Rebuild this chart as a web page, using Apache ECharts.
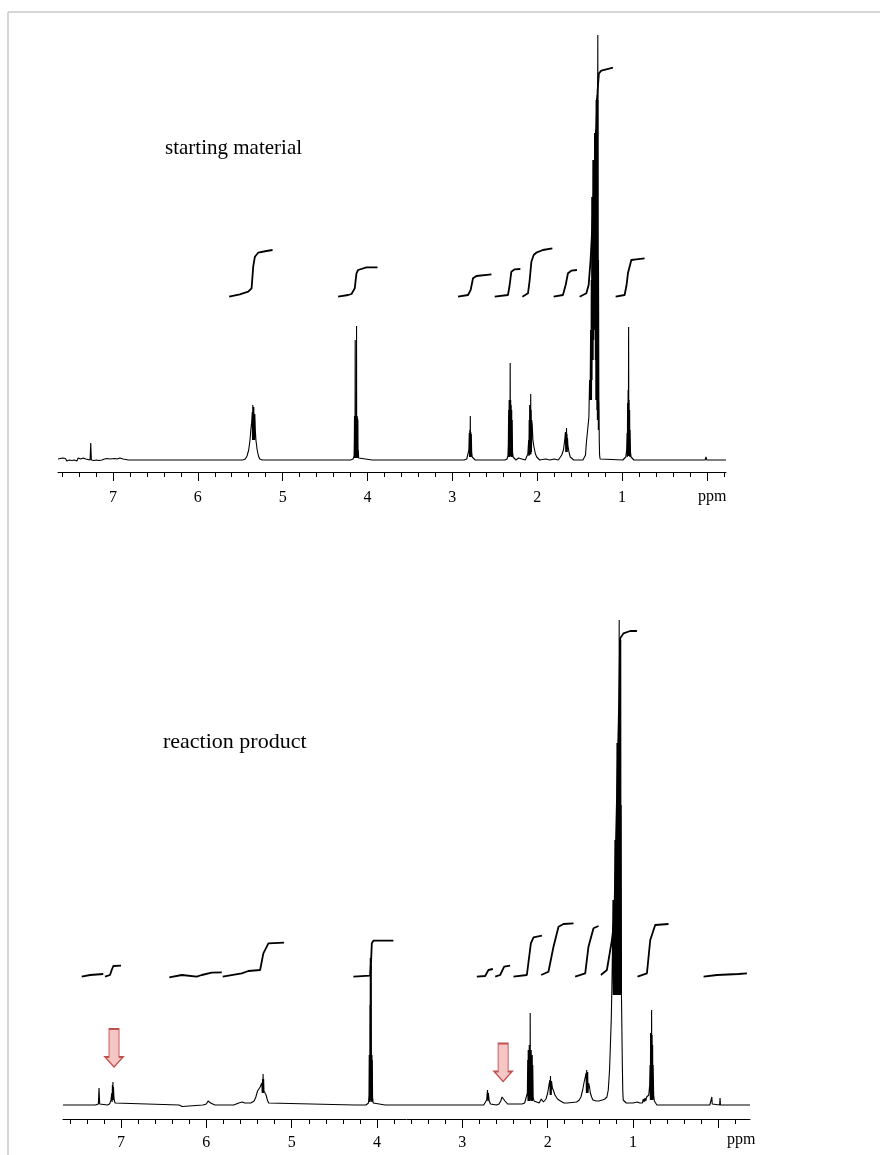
<!DOCTYPE html>
<html><head><meta charset="utf-8">
<script src="https://cdn.jsdelivr.net/npm/echarts@6/dist/echarts.min.js"></script>
<style>html,body{margin:0;padding:0;background:#fff}#c{width:880px;height:1155px}</style>
</head><body><div id="c"></div>
<script>
// ---------------- data (ppm, intensity) ----------------
const majorTicks = [0, 1, 2, 3, 4, 5, 6, 7];
const minorTicks = [7.6, 7.4, 7.2, 6.8, 6.6, 6.4, 6.2, 5.8, 5.6, 5.4, 5.2, 4.8, 4.6, 4.4, 4.2,
  3.8, 3.6, 3.4, 3.2, 2.8, 2.6, 2.4, 2.2, 1.8, 1.6, 1.4, 1.2, 0.8, 0.6, 0.4, 0.2, -0.2];
const axisUnit = 'ppm';
const topTitle = 'starting material';
const bottomTitle = 'reaction product';

const topSpectrum = [
  [7.648,1],[7.635,-1],[7.62,1.5],[7.605,-0.5],[7.59,2],[7.575,0],[7.56,1.5],[7.545,-1],[7.53,1],[7.515,0],[7.50,2],[7.485,-0.5],[7.47,1.5],[7.455,0],[7.44,1],[7.425,-1],[7.41,2],[7.395,0],[7.38,1],[7.365,-0.5],[7.35,2],[7.335,0],[7.32,1],[7.30,0],[7.27,0],[7.262,17],[7.255,0],[7.24,1],[7.225,-0.5],[7.21,1.5],[7.195,0],[7.18,2],[7.165,-0.5],[7.15,1],[7.13,0],[7.10,1],[7.085,-0.5],[7.07,1.5],[7.05,0],[7.03,1],[7.01,0],[6.98,1.5],[6.965,-0.5],[6.95,1],[6.93,0],[6.92,2],[6.90,0],[6.88,1],[6.86,0],[6.82,0],
  [6.0,0],[5.99,2],[5.98,0],
  [5.47,0],[5.44,1],[5.42,4],[5.40,10],[5.385,20],[5.375,30],[5.365,38],[5.358,48],[5.355,20],[5.352,55],[5.349,20],[5.346,42],[5.343,20],[5.340,53],[5.337,20],[5.334,40],[5.331,20],[5.328,46],[5.322,30],[5.315,20],[5.30,10],[5.285,4],[5.27,1],[5.24,0],[5.165,0],[5.16,2],[5.155,0],
  [4.20,0],[4.17,1],[4.158,4],[4.155,20],[4.153,44],[4.151,2],[4.149,44],[4.147,4],[4.145,120],[4.143,2],[4.141,44],[4.139,3],[4.137,44],[4.135,2],[4.133,44],[4.131,3],[4.129,134],[4.127,2],[4.125,44],[4.123,3],[4.121,44],[4.119,2],[4.117,42],[4.115,3],[4.113,40],[4.111,2],[4.108,10],[4.104,2],[4.09,0],[3.945,0],[3.94,2],[3.935,0],
  [2.86,0],[2.83,1],[2.815,3],[2.805,10],[2.80,27],[2.797,3],[2.794,30],[2.791,3],[2.788,44],[2.785,3],[2.782,28],[2.779,3],[2.776,26],[2.772,8],[2.765,3],[2.75,1],[2.73,0],
  [2.38,0],[2.355,1],[2.345,4],[2.34,15],[2.336,50],[2.333,3],[2.330,60],[2.327,3],[2.324,60],[2.321,4],[2.318,97],[2.315,4],[2.312,60],[2.309,3],[2.306,55],[2.303,3],[2.300,50],[2.297,3],[2.294,40],[2.29,8],[2.283,3],[2.27,1],[2.25,0],[2.22,2],[2.20,0],[2.18,1],
  [2.14,0],[2.12,2],[2.11,6],[2.10,20],[2.097,4],[2.094,40],[2.091,5],[2.088,55],[2.085,5],[2.082,50],[2.079,6],[2.076,66],[2.073,6],[2.070,50],[2.067,8],[2.064,40],[2.058,35],[2.05,20],[2.04,14],[2.03,10],[2.02,6],[2.005,3],[1.99,1],[1.97,0],[1.90,1],[1.85,0],[1.80,1],
  [1.75,0],[1.73,2],[1.71,5],[1.69,10],[1.675,20],[1.667,28],[1.663,8],[1.660,25],[1.657,8],[1.654,32],[1.651,8],[1.648,26],[1.645,8],[1.642,22],[1.638,15],[1.625,8],[1.61,3],[1.59,1],[1.57,0],
  [1.46,0],[1.445,1],[1.43,5],[1.42,17],[1.405,30],[1.39,43],[1.382,80],[1.376,60],[1.370,130],[1.366,60],[1.362,180],[1.359,60],[1.356,263],[1.353,80],[1.350,263],[1.347,100],[1.343,300],[1.340,100],[1.337,300],[1.333,120],[1.330,300],[1.327,130],[1.323,327],[1.320,140],[1.317,327],[1.314,100],[1.311,330],[1.308,60],[1.305,360],[1.302,60],[1.299,362],[1.296,50],[1.293,365],[1.290,40],[1.287,365],[1.285,425],[1.283,40],[1.281,360],[1.279,30],[1.277,200],[1.275,147],[1.273,60],[1.271,57],[1.268,20],[1.264,5],[1.258,1],[1.245,0],
  [0.99,0],[0.97,1],[0.955,3],[0.945,10],[0.94,27],[0.937,3],[0.934,57],[0.931,4],[0.928,70],[0.925,4],[0.922,133],[0.919,4],[0.916,60],[0.913,4],[0.910,50],[0.907,3],[0.904,30],[0.90,8],[0.893,3],[0.88,1],[0.86,0],[0.78,0],[0.775,2],[0.77,0],[0.02,0],[0.01,3],[0.0,0],[-0.226,0]
];

const topIntegrals = [
  [[5.630,163.3],[5.504,165.7],[5.406,168.3],[5.366,171.7],[5.347,193.3],[5.327,203.3],[5.289,207.3],[5.190,209],[5.119,210]],
  [[4.346,163.3],[4.228,165],[4.188,166],[4.150,171.7],[4.130,186.7],[4.111,190],[4.012,192.7],[3.882,192.7]],
  [[2.933,163.3],[2.815,165],[2.784,170],[2.756,181.7],[2.716,184],[2.539,185.7]],
  [[2.500,163.3],[2.344,165],[2.324,175],[2.304,188.3],[2.265,190.7],[2.198,191]],
  [[2.174,163.3],[2.108,166.7],[2.088,180],[2.068,198.3],[2.041,205],[2.010,207.3],[1.932,210],[1.821,211.7]],
  [[1.806,163.3],[1.696,165],[1.664,175],[1.637,186.7],[1.597,189.3],[1.531,190]],
  [[1.499,163.3],[1.420,166.7],[1.393,175],[1.370,200],[1.346,240],[1.311,310],[1.287,370],[1.272,386.7],[1.244,389.3],[1.185,390.7],[1.107,392.3]],
  [[1.075,163.3],[0.969,165],[0.946,175],[0.930,186.7],[0.890,200],[0.832,200.7],[0.734,201.7]]
];

const bottomSpectrum = [
  [7.68,0],[7.30,0],[7.265,1],[7.258,17],[7.25,1],[7.24,0],
  [7.16,0],[7.135,1],[7.12,4],[7.108,12],[7.104,3],[7.101,20],[7.098,5],[7.095,23],[7.092,5],[7.089,18],[7.082,6],[7.07,2],[7.055,0],
  [6.32,0],[6.31,-1.5],[6.30,0],[6.285,-1.5],[6.275,0],
  [6.04,0],[6.0,1],[5.98,4],[5.97,2],[5.96,5],[5.95,2],[5.93,1],[5.90,0],
  [5.68,0],[5.66,1],[5.62,2],[5.60,1],[5.58,3],[5.55,2],[5.53,3],
  [5.48,2],[5.44,4],[5.42,8],[5.40,14],[5.37,18],[5.35,22],[5.345,12],[5.341,26],[5.338,12],[5.335,31],[5.332,12],[5.329,26],[5.325,14],[5.315,14],[5.30,10],[5.285,5],[5.27,2],[5.25,0],
  [4.265,0],[4.26,2],[4.255,0],
  [4.13,0],[4.10,2],[4.094,10],[4.091,50],[4.089,3],[4.087,50],[4.085,3],[4.083,100],[4.081,3],[4.079,147],[4.077,5],[4.075,147],[4.073,5],[4.071,147],[4.069,5],[4.067,140],[4.065,4],[4.063,50],[4.061,3],[4.059,50],[4.057,3],[4.055,45],[4.052,8],[4.045,2],[4.03,0],
  [3.905,0],[3.90,2],[3.895,0],
  [2.75,0],[2.73,1],[2.715,5],[2.705,15],[2.70,4],[2.695,12],[2.685,4],[2.67,1],[2.66,0],
  [2.60,0],[2.57,1],[2.55,4],[2.535,8],[2.525,6],[2.515,8],[2.50,4],[2.485,2],[2.47,1],[2.45,1],
  [2.30,1],[2.27,2],[2.25,4],[2.238,12],[2.234,45],[2.231,4],[2.228,55],[2.225,4],[2.222,55],[2.219,4],[2.216,60],[2.213,4],[2.210,55],[2.207,5],[2.205,92],[2.202,5],[2.199,55],[2.196,4],[2.193,55],[2.190,4],[2.187,50],[2.184,4],[2.181,50],[2.178,4],[2.175,40],[2.17,8],[2.16,4],[2.15,3],
  [2.10,2],[2.085,4],[2.075,6],[2.065,4],
  [2.05,3],[2.02,6],[2.0,12],[1.985,20],[1.975,25],[1.971,10],[1.967,29],[1.964,10],[1.961,22],[1.958,10],[1.955,24],[1.945,17],[1.93,14],[1.915,10],[1.90,8],[1.885,6],[1.87,5],[1.85,4],[1.83,3],[1.81,2],[1.79,3],[1.77,2],[1.75,3],
  [1.66,3],[1.63,5],[1.61,8],[1.59,15],[1.575,22],[1.56,28],[1.55,32],[1.546,12],[1.543,35],[1.540,12],[1.537,28],[1.534,12],[1.531,33],[1.527,12],[1.52,22],[1.51,18],[1.50,12],[1.485,8],[1.47,5],[1.45,3],[1.43,4],
  [1.40,4],[1.385,5],[1.36,5],[1.33,6],[1.306,8],[1.29,15],[1.275,35],[1.265,60],[1.255,85],[1.247,120],[1.24,160],[1.235,205],[1.231,110],[1.227,205],[1.223,110],[1.219,205],[1.215,110],[1.212,265],[1.209,110],[1.206,265],[1.203,110],[1.200,265],[1.197,110],[1.194,265],[1.191,110],[1.188,362],[1.185,110],[1.182,362],[1.179,110],[1.176,362],[1.173,110],[1.170,362],[1.167,110],[1.164,362],[1.162,485],[1.159,110],[1.156,465],[1.153,110],[1.150,465],[1.147,110],[1.144,465],[1.141,110],[1.138,300],[1.135,108],[1.13,108],[1.125,40],[1.12,15],[1.115,5],[1.11,3],[1.10,3],
  [1.08,2],[1.0,2],[0.95,3],[0.92,2],[0.90,4],[0.89,2],[0.88,6],[0.87,3],[0.86,7],[0.85,4],[0.84,8],[0.83,6],[0.815,10],[0.805,20],[0.80,40],[0.797,5],[0.794,72],[0.791,5],[0.788,72],[0.785,5],[0.782,95],[0.779,5],[0.776,70],[0.773,5],[0.770,60],[0.767,5],[0.764,40],[0.758,10],[0.75,4],[0.74,2],[0.72,0],
  [0.10,0],[0.08,1],[0.076,8],[0.072,1],[0.06,0],[-0.015,0],[-0.02,7],[-0.025,0],[-0.371,0]
];

const bottomIntegrals = [
  [[7.461,128.3],[7.363,130],[7.208,131]],
  [[7.188,128.3],[7.129,130],[7.109,135],[7.090,139],[7.0,139.3]],
  [[6.434,127.7],[6.288,130],[6.113,128.3],[6.054,130],[5.937,132.3],[5.819,132.7]],
  [[5.808,128.3],[5.585,131.7],[5.508,134],[5.370,135],[5.332,151.7],[5.273,161.7],[5.089,162.3]],
  [[4.277,128.3],[4.081,129.3],[4.069,145],[4.061,161.7],[4.042,164.3],[3.808,164.3]],
  [[2.830,128.3],[2.733,129],[2.694,135],[2.642,136]],
  [[2.615,128.3],[2.557,130],[2.510,138.3],[2.440,139.3]],
  [[2.401,128.3],[2.244,130],[2.197,161.7],[2.166,167.7],[2.068,169.3]],
  [[2.076,130],[1.991,133.3],[1.932,158.3],[1.873,178.3],[1.815,181],[1.697,181.7]],
  [[1.678,128.3],[1.560,131.7],[1.522,158.3],[1.463,176.7],[1.404,179]],
  [[1.376,130],[1.306,135],[1.247,165],[1.220,185],[1.162,405],[1.150,466.7],[1.111,471.7],[1.033,474],[0.954,474]],
  [[0.947,128.3],[0.837,131.7],[0.798,165],[0.740,180],[0.584,181]],
  [[0.173,128.3],[0.016,130],[-0.237,131],[-0.335,131.7]]
];

// annotation arrows (ppm, height) in the product spectrum
const arrowMarks = [[7.082, 57], [2.522, 42.5]];

// ---------------- chart ----------------
const FONT = '"Liberation Serif", "Times New Roman", serif';
function xAxes(gi, min, max, offset, margin) {
  return [
    { type: 'value', gridIndex: gi, position: 'bottom', min: min, max: max, inverse: true, offset: offset,
      axisLine: { show: true, onZero: false, lineStyle: { color: '#000', width: 1 } },
      axisTick: { show: true, inside: false, customValues: majorTicks, length: 9, lineStyle: { color: '#000', width: 1 } },
      axisLabel: { show: true, customValues: majorTicks, margin: margin, color: '#000', fontFamily: FONT, fontSize: 16,
        formatter: v => (v === 0 ? '' : String(v)) },
      splitLine: { show: false } },
    { type: 'value', gridIndex: gi, position: 'bottom', min: min, max: max, inverse: true, offset: offset,
      axisLine: { show: false, onZero: false },
      axisTick: { show: true, inside: false, customValues: minorTicks, length: 5, lineStyle: { color: '#000', width: 1 } },
      axisLabel: { show: false }, splitLine: { show: false } }
  ];
}
const spec = (data, xi, yi, w) => ({
  type: 'line', data: data, xAxisIndex: xi, yAxisIndex: yi, showSymbol: false, symbol: 'none',
  lineStyle: { color: '#000', width: w }, animation: false, silent: true, clip: true
});

const series = [];
series.push(spec(topSpectrum, 0, 0, 1.1));
topIntegrals.forEach(seg => series.push(spec(seg, 0, 0, 1.8)));
series.push(spec(bottomSpectrum, 2, 1, 1.1));
bottomIntegrals.forEach(seg => series.push(spec(seg, 2, 1, 1.8)));
series.push({
  type: 'scatter', xAxisIndex: 2, yAxisIndex: 1, data: arrowMarks, silent: true, animation: false,
  symbol: 'path://M4,0L14,0L14,28L18,28L9,38L0,28L4,28Z', symbolSize: [18, 38],
  itemStyle: { color: '#f5c6c6', borderColor: '#c0504d', borderWidth: 1.3, opacity: 1 }
});

const chart = echarts.init(document.getElementById('c'), null, { renderer: 'canvas' });
chart.setOption({
  backgroundColor: '#fff',
  animation: false,
  grid: [
    { left: 58, width: 668, top: 30, height: 435 },
    { left: 63, width: 687, top: 615, height: 495 }
  ],
  xAxis: [].concat(xAxes(0, -0.226, 7.648, 7, 18), xAxes(1, -0.371, 7.68, 9, 16)),
  yAxis: [
    { type: 'value', gridIndex: 0, min: -5, max: 430, show: false },
    { type: 'value', gridIndex: 1, min: -5, max: 490, show: false }
  ],
  graphic: [
    { type: 'line', shape: { x1: 8, y1: 12, x2: 880, y2: 12 }, style: { stroke: '#c8c8c8', lineWidth: 1.5 }, silent: true },
    { type: 'line', shape: { x1: 8, y1: 12, x2: 8, y2: 1155 }, style: { stroke: '#c8c8c8', lineWidth: 1.5 }, silent: true },
    { type: 'text', left: 165, top: 138, style: { text: topTitle, font: '21px ' + FONT, fill: '#000' }, silent: true },
    { type: 'text', left: 163, top: 731, style: { text: bottomTitle, font: '22px ' + FONT, fill: '#000' }, silent: true },
    { type: 'text', left: 698, top: 489, style: { text: axisUnit, font: '16px ' + FONT, fill: '#000' }, silent: true },
    { type: 'text', left: 727, top: 1132, style: { text: axisUnit, font: '16px ' + FONT, fill: '#000' }, silent: true }
  ],
  series: series
});
</script>
</body></html>
